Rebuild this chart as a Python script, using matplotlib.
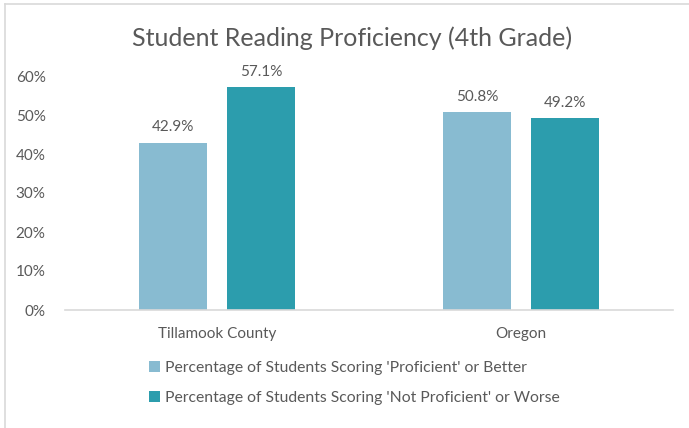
import matplotlib
matplotlib.use('Agg')
import matplotlib.pyplot as plt
from matplotlib.ticker import PercentFormatter
import numpy as np

plt.rcParams['font.family'] = ['Lato', 'DejaVu Sans']

regions = ['Tillamook County', 'Oregon']
proficient = [0.429, 0.508]
not_proficient = [0.571, 0.492]
series_labels = ["Percentage of Students Scoring 'Proficient' or Better",
                 "Percentage of Students Scoring 'Not Proficient' or Worse"]
colors = ['#88BBD1', '#2C9DAD']
grey = '#595959'

fig = plt.figure(figsize=(6.89, 4.28), dpi=100)
ax = fig.add_axes([65/689, 1 - 310/428, 608/689, 234/428])

x = np.arange(len(regions))
off = 0.145
w = 0.224
b1 = ax.bar(x - off, proficient, w, color=colors[0], label=series_labels[0])
b2 = ax.bar(x + off, not_proficient, w, color=colors[1], label=series_labels[1])

for bars in (b1, b2):
    for r in bars:
        h = r.get_height()
        ax.annotate(f'{h*100:.1f}%', xy=(r.get_x() + r.get_width()/2, h),
                    xytext=(0, 6), textcoords='offset points',
                    ha='center', va='bottom', fontsize=11, color=grey,
                    annotation_clip=False)

ax.set_xlim(-0.5, 1.5)
ax.set_ylim(0, 0.6)
ax.set_yticks(np.arange(0, 0.61, 0.1))
ax.yaxis.set_major_formatter(PercentFormatter(1.0, decimals=0))
ax.set_xticks(x)
ax.set_xticklabels(regions)
ax.tick_params(axis='both', length=0, labelsize=11, labelcolor=grey)
ax.tick_params(axis='x', pad=12)
ax.tick_params(axis='y', pad=14)
for s in ['top', 'right', 'left']:
    ax.spines[s].set_visible(False)
ax.spines['bottom'].set_color('#D9D9D9')
ax.spines['bottom'].set_linewidth(1.2)

fig.text(352/689, 1 - 38/428, 'Student Reading Proficiency (4th Grade)',
         ha='center', va='center', fontsize=18, color=grey)

fig.legend(loc='upper left', bbox_to_anchor=(143/689, 1 - 355/428),
           frameon=False, fontsize=11.3, labelcolor=grey, ncol=1,
           handlelength=0.7, handleheight=0.7, handletextpad=0.3,
           labelspacing=1.0, borderaxespad=0)

# chart border (left and top edges visible)
fig.add_artist(plt.Line2D([5/689, 5/689], [0, 1 - 4/428], transform=fig.transFigure,
                          color='#D9D9D9', lw=1.2))
fig.add_artist(plt.Line2D([5/689, 1], [1 - 4/428, 1 - 4/428], transform=fig.transFigure,
                          color='#D9D9D9', lw=1.2))

fig.savefig('out.png', dpi=100)
